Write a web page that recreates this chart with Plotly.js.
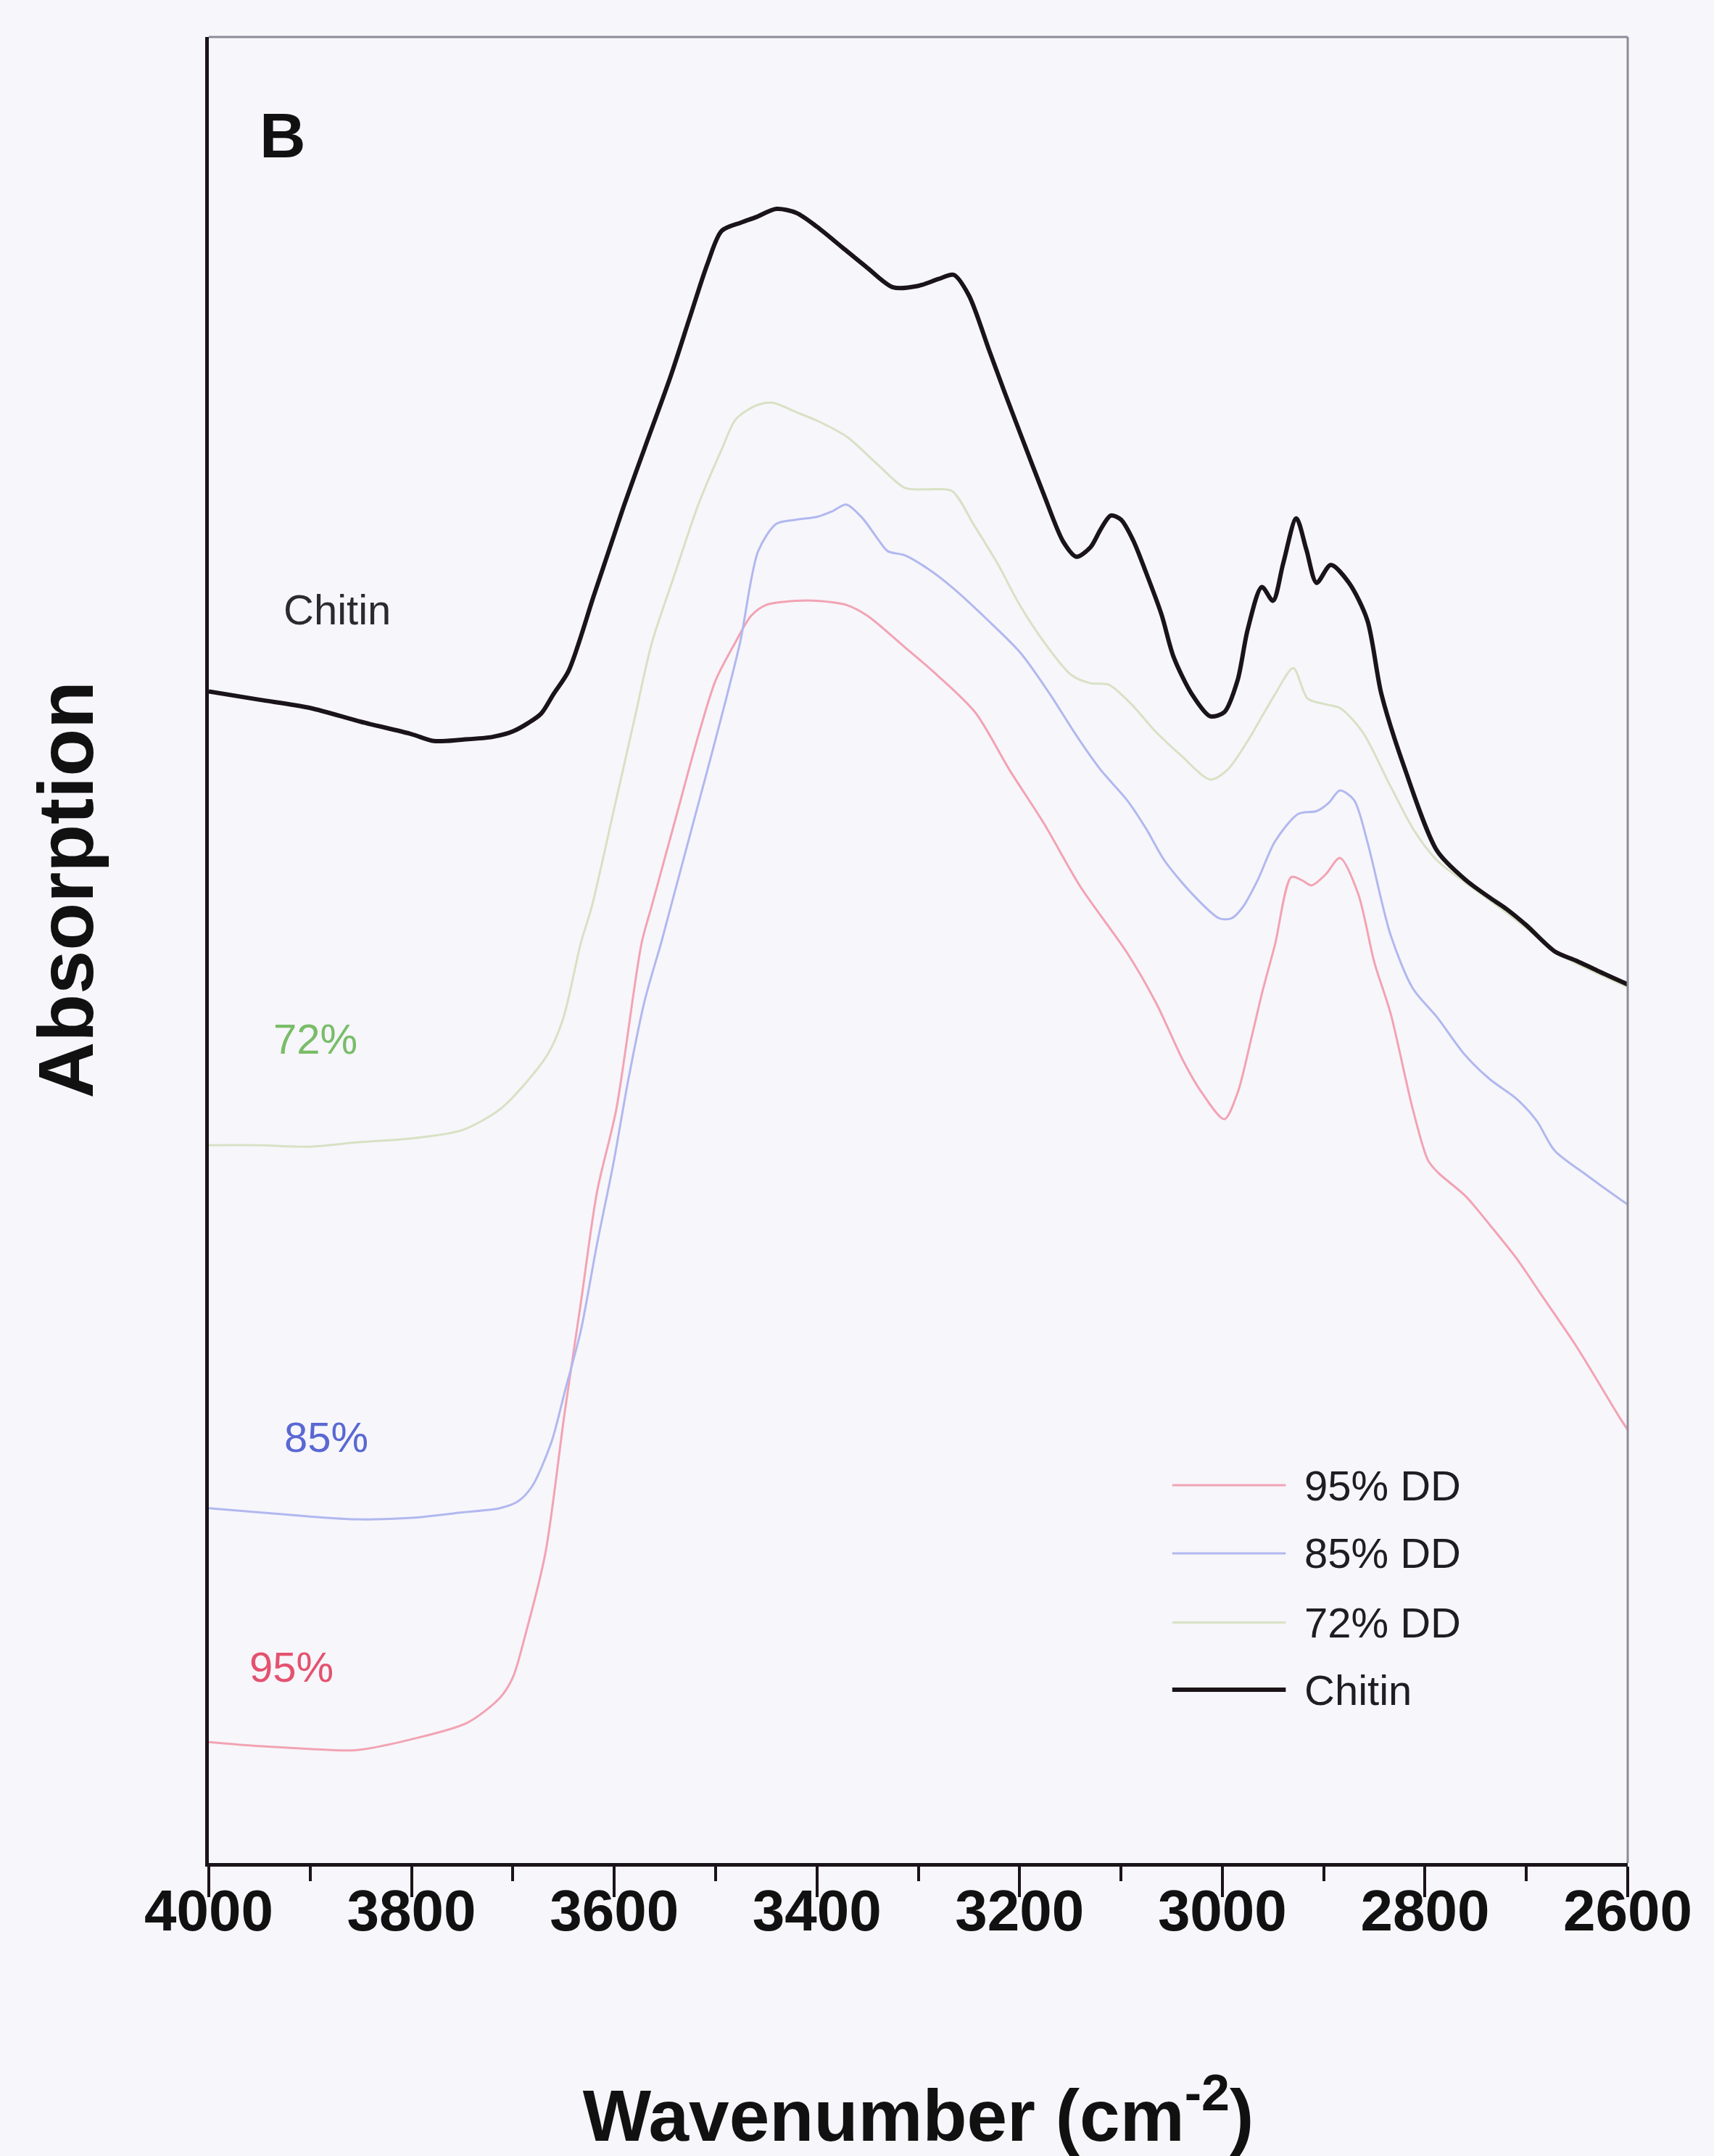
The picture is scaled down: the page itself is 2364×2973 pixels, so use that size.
<!DOCTYPE html>
<html>
<head>
<meta charset="utf-8">
<script src="https://cdn.plot.ly/plotly-3.0.1.min.js"></script>
<style>
  html, body { margin: 0; padding: 0; background: #f7f6fb; }
  #chart { width: 2364px; height: 2973px; }
</style>
</head>
<body>
<div id="chart"></div>
<script>
// Wavenumber (axis labelled as in the source) and absorption (arbitrary units)
const wn95 = [4000,3950,3900,3856,3800,3745,3713,3700,3688,3668,3649,3633,3617,3598,3573,3563,3540,3517,3500,3481,3465,3450,3420,3400,3371,3350,3313,3286,3244,3210,3176,3140,3094,3065,3039,3020,2998,2985,2971,2960,2948,2932,2922,2912,2898,2884,2866,2850,2834,2812,2797,2787,2760,2736,2710,2685,2650,2608,2600];
const abs95 = [8.8,8.5,8.3,8.2,9.0,10.2,12.0,13.5,16.5,22.5,32.7,40.7,48.8,54.8,66.9,69.6,75.8,82.0,86.0,88.7,90.7,91.5,91.8,91.8,91.5,90.7,88.4,86.7,83.7,79.5,75.6,71.0,66.2,62.5,58.4,56.0,54.1,56.0,60.1,63.5,66.8,71.7,71.5,71.1,71.9,73.1,70.5,65.5,61.8,54.8,51.1,50.2,48.5,46.4,44.0,41.3,37.5,32.4,31.5];

const wn85 = [4000,3950,3900,3856,3800,3750,3713,3695,3681,3662,3648,3633,3617,3601,3586,3570,3553,3544,3520,3499,3476,3458,3440,3420,3400,3385,3371,3355,3340,3330,3313,3290,3267,3233,3199,3170,3144,3120,3094,3075,3057,3030,3003,2991,2980,2965,2948,2925,2907,2895,2884,2870,2857,2834,2812,2788,2761,2736,2710,2690,2672,2640,2608,2600];
const abs85 = [25.8,25.5,25.2,25.0,25.1,25.5,25.8,26.3,27.4,30.6,34.5,38.7,45.0,50.8,57.0,62.7,67.1,69.6,76.2,82.0,88.7,95.4,97.4,97.7,97.9,98.3,98.8,97.8,96.3,95.4,95.1,94.1,92.8,90.5,88.0,85.0,82.0,79.5,77.3,75.2,72.9,70.5,68.7,68.7,69.5,71.5,74.3,76.3,76.5,77.1,78.0,77.3,74.3,67.5,63.6,61.5,58.8,57.0,55.6,54.0,51.8,50.0,48.3,47.9];

const wn72 = [4000,3950,3900,3856,3800,3750,3713,3690,3665,3650,3633,3622,3600,3580,3563,3540,3517,3494,3480,3460,3444,3420,3400,3370,3340,3313,3290,3267,3245,3221,3200,3175,3149,3130,3112,3090,3066,3040,3012,2995,2975,2960,2948,2930,2916,2900,2884,2862,2834,2810,2788,2760,2734,2700,2672,2650,2600];
const abs72 = [52.2,52.2,52.1,52.4,52.7,53.3,54.8,56.5,58.9,61.5,66.9,69.6,76.7,83.2,88.7,93.8,98.8,102.8,105.0,106.0,106.2,105.5,104.9,103.7,101.7,100.0,99.9,99.8,97.3,94.4,91.5,88.7,86.4,85.8,85.7,84.3,82.3,80.5,78.8,79.5,81.6,83.5,85.0,86.9,84.7,84.3,84.0,82.3,78.3,75.0,72.9,71.3,69.9,68.0,66.3,65.4,63.7];

const wnChitin = [4000,3950,3900,3850,3800,3778,3750,3720,3700,3685,3672,3660,3645,3620,3600,3590,3570,3544,3525,3508,3494,3475,3460,3440,3420,3400,3375,3350,3325,3300,3280,3265,3250,3230,3215,3199,3176,3157,3144,3130,3120,3110,3100,3088,3075,3060,3048,3030,3012,2998,2985,2975,2961,2950,2940,2927,2917,2907,2893,2875,2857,2843,2820,2788,2760,2734,2720,2700,2672,2650,2630,2600];
const absChitin = [85.2,84.6,84.0,83.0,82.1,81.6,81.7,81.9,82.3,82.9,83.6,85.0,86.7,92.2,96.6,98.8,102.9,108.2,112.5,116.3,118.7,119.3,119.7,120.3,120.0,119.0,117.5,116.0,114.6,114.7,115.2,115.5,114.0,110.0,107.0,103.9,99.5,96.1,95.0,95.7,97.0,98.0,97.7,96.2,93.8,90.8,87.7,85.0,83.4,83.7,86.0,89.7,92.8,91.8,94.5,97.8,95.5,93.1,94.4,93.1,90.4,85.0,79.6,73.6,71.5,70.1,69.4,68.2,66.3,65.6,64.9,63.9];

const seriesNames = ["95% DD", "85% DD", "72% DD", "Chitin"];
const seriesColors = ["#f2a3b3", "#b1b8ef", "#d8e1c4", "#1a1418"];
const seriesWidths = [3, 3, 3, 6];
const curveLabels = ["95%", "85%", "72%", "Chitin"];
const labelColors = ["#e4526e", "#5a68d2", "#79bd68", "#2a2a30"];
const xTicks = [4000, 3800, 3600, 3400, 3200, 3000, 2800, 2600];

const xs = [wn95, wn85, wn72, wnChitin];
const ys = [abs95, abs85, abs72, absChitin];

const traces = seriesNames.map((n, i) => ({
  type: 'scatter', mode: 'lines', name: n,
  x: xs[i], y: ys[i],
  line: { color: seriesColors[i], width: seriesWidths[i], shape: 'spline', smoothing: 0.8 },
  showlegend: false, hoverinfo: 'skip'
}));

const FONT = 'Liberation Sans, Arial, sans-serif';

// legend built from series styles (paper coordinates)
const legX0 = 0.679, legX1 = 0.759, legTextX = 0.771;
const legY = [0.2069, 0.1696, 0.1318, 0.0949];
const shapes = [
  { type: 'line', xref: 'paper', yref: 'paper', x0: 0, x1: 1, y0: 1, y1: 1, line: { color: '#8e8c98', width: 3 }, layer: 'above' },
  { type: 'line', xref: 'paper', yref: 'paper', x0: 1, x1: 1, y0: 0, y1: 1, line: { color: '#8e8c98', width: 3 }, layer: 'above' }
];
const annotations = [];
seriesNames.forEach((n, i) => {
  shapes.push({ type: 'line', xref: 'paper', yref: 'paper', x0: legX0, x1: legX1, y0: legY[i], y1: legY[i],
    line: { color: seriesColors[i], width: seriesWidths[i] } });
  annotations.push({ xref: 'paper', yref: 'paper', x: legTextX, y: legY[i], xanchor: 'left', yanchor: 'middle',
    text: n, showarrow: false, font: { family: FONT, size: 58, color: '#1e1e22' } });
});
const labelPos = [[0.0583, 0.1076], [0.0828, 0.2335], [0.0751, 0.4512], [0.0904, 0.6863]];
curveLabels.forEach((t, i) => {
  annotations.push({ xref: 'paper', yref: 'paper', x: labelPos[i][0], y: labelPos[i][1], xanchor: 'center', yanchor: 'middle',
    text: t, showarrow: false, font: { family: FONT, size: 58, color: labelColors[i] } });
});
annotations.push({ xref: 'paper', yref: 'paper', x: 0.0521, y: 0.946, xanchor: 'center', yanchor: 'middle',
  text: 'B', showarrow: false, font: { family: FONT, size: 88, color: '#111', weight: 'bold' } });
// y-axis title (placed off-centre as in the source)
annotations.push({ xref: 'paper', yref: 'paper', x: -0.1007, y: 0.533, xanchor: 'center', yanchor: 'middle',
  text: 'Absorption', textangle: -90, showarrow: false, font: { family: FONT, size: 108, color: '#111', weight: 'bold' } });

const layout = {
  width: 2364, height: 2973,
  paper_bgcolor: '#f7f6fb', plot_bgcolor: '#f7f6fb',
  margin: { l: 288, r: 119, t: 51, b: 404 },
  showlegend: false,
  xaxis: {
    range: [4000, 2600], tickvals: xTicks, ticktext: xTicks.map(String),
    showline: true, linewidth: 5, linecolor: '#1a1418', zeroline: false, showgrid: false,
    ticks: 'outside', ticklen: 42, tickwidth: 4, tickcolor: '#1a1418',
    minor: { dtick: 100, tick0: 2600, ticks: 'outside', ticklen: 20, tickwidth: 4, tickcolor: '#1a1418', showgrid: false },
    tickfont: { family: FONT, size: 80, color: '#111', weight: 'bold' },
    ticklabelstandoff: -50,
    title: { text: 'Wavenumber (cm<sup>-2</sup>)', standoff: 215, font: { family: FONT, size: 100, color: '#111', weight: 'bold' } },
    automargin: false
  },
  yaxis: {
    range: [0, 132.8], showticklabels: false, ticks: '', showgrid: false, zeroline: false,
    showline: true, linewidth: 5, linecolor: '#1a1418',
    automargin: false
  },
  shapes: shapes,
  annotations: annotations
};

Plotly.newPlot('chart', traces, layout, { staticPlot: true, displayModeBar: false });
</script>
</body>
</html>
